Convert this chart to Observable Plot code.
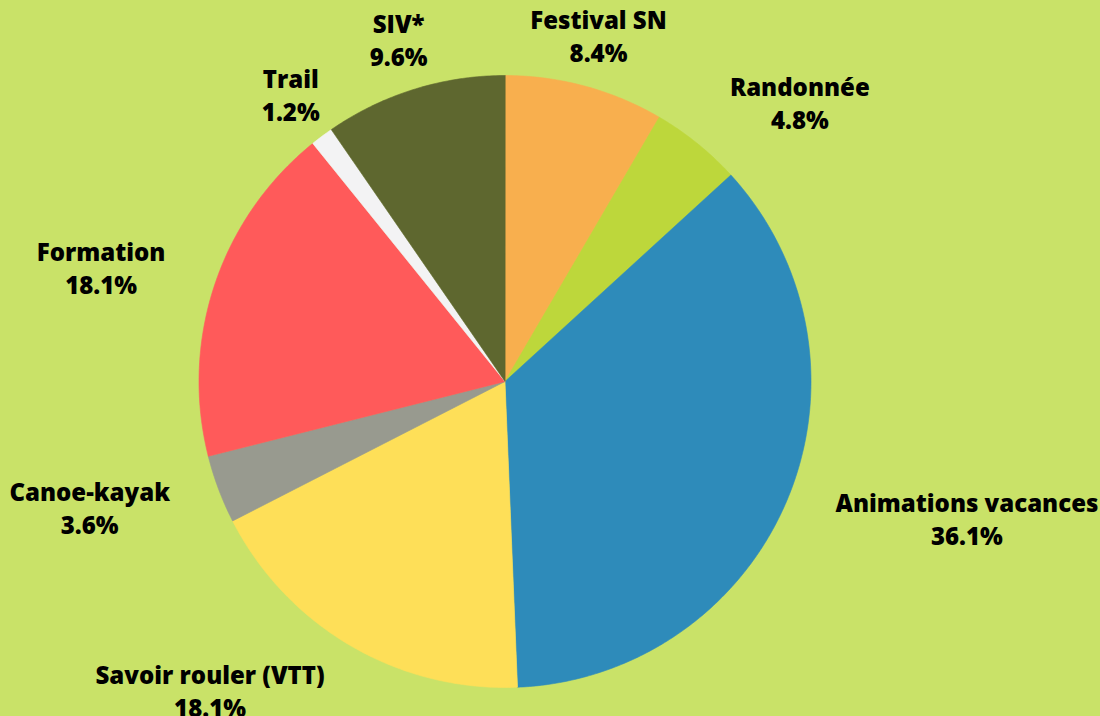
<!DOCTYPE html>
<html><head><meta charset="utf-8">
<script src="https://cdn.jsdelivr.net/npm/d3@7"></script>
<script src="https://cdn.jsdelivr.net/npm/@observablehq/plot@0.6"></script>
<style>html,body{margin:0;padding:0;background:#C9E268;overflow:hidden;}</style>
</head><body><div id="chart"></div>
<script>
const categories = ["Festival SN", "Randonnée", "Animations vacances", "Savoir rouler (VTT)", "Canoe-kayak", "Formation", "Trail", "SIV*"];
const values = [8.4, 4.8, 36.1, 18.1, 3.6, 18.1, 1.2, 9.6];
const colors = ["#F8AF4E", "#BDD73B", "#2E8BBA", "#FEDF58", "#989A8F", "#FF5A5A", "#F3F3F4", "#5E672F"];

const W = 1100, H = 716, cx = 504.5, cy = 381, r = 306;
const FONT_SIZE = 24, FONT_WEIGHT = 800, FONT_FAMILY = "Open Sans";
const arcs = d3.pie().sort(null).value(d => d)(values);

const poly = [];
arcs.forEach((a, i) => {
  const cat = categories[i];
  poly.push({cat, x: 0, y: 0});
  const n = Math.max(2, Math.ceil((a.endAngle - a.startAngle) / 0.01));
  for (let k = 0; k <= n; k++) {
    const t = a.startAngle + (a.endAngle - a.startAngle) * k / n;
    poly.push({cat, x: Math.sin(t), y: Math.cos(t)});
  }
});

// measure label block widths so that lines stay centred within their block
const ctx = document.createElement("canvas").getContext("2d");
ctx.font = `${FONT_WEIGHT} ${FONT_SIZE}px "${FONT_FAMILY}"`;
const R = 358 / r;
const labels = arcs.map((a, i) => {
  const m = (a.startAngle + a.endAngle) / 2;
  const s = Math.sin(m), c = Math.cos(m);
  const lines = [categories[i], `${values[i].toFixed(1)}%`];
  const w = Math.max(...lines.map(t => ctx.measureText(t).width));
  const side = c > 0.79 ? 0 : Math.sign(s);
  return {
    cat: categories[i],
    text: lines.join("\n"),
    x: R * s + side * (w / 2) / r,
    y: R * c
  };
});

const chart = Plot.plot({
  width: W, height: H,
  margin: 0,
  x: {domain: [-cx / r, (W - cx) / r], axis: null},
  y: {domain: [-(H - cy) / r, cy / r], axis: null},
  color: {domain: categories, range: colors},
  style: {background: "#C9E268"},
  marks: [
    Plot.line(poly, {x: "x", y: "y", z: "cat", fill: "cat", stroke: "cat", strokeWidth: 0.6, curve: "linear-closed"}),
    Plot.text(labels, {
      x: "x", y: "y", text: "text", dy: -1,
      textAnchor: "middle", lineAnchor: "middle", lineHeight: 1.38,
      fontSize: FONT_SIZE, fontWeight: FONT_WEIGHT, fontFamily: FONT_FAMILY, fill: "#000"
    })
  ]
});
document.getElementById("chart").appendChild(chart);
</script>
</body></html>
